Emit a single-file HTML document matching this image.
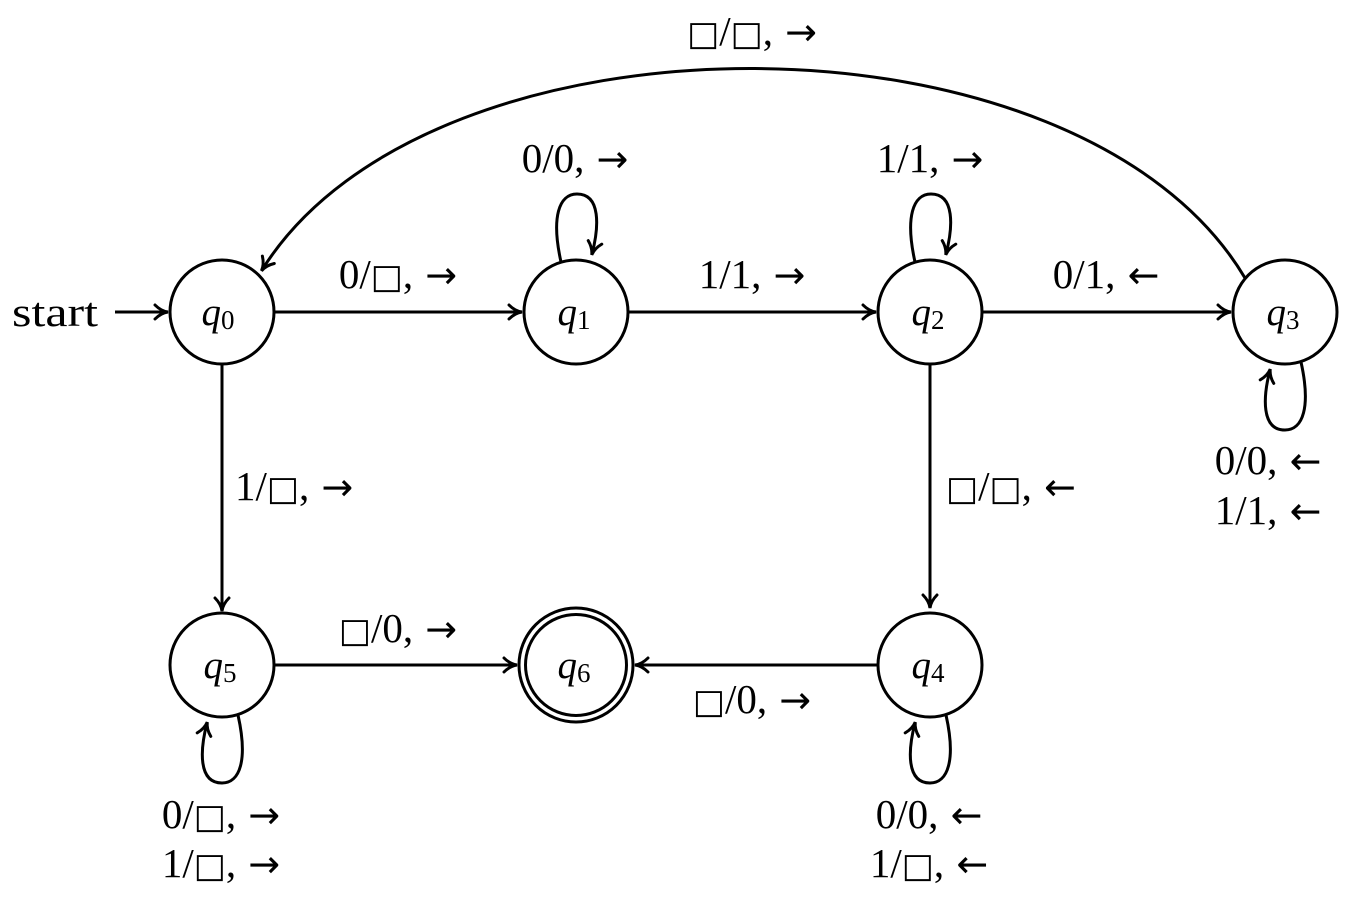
<!DOCTYPE html>
<html><head><meta charset="utf-8"><style>
html,body{margin:0;padding:0;background:#fff;}
svg{display:block;}
text{font-family:"Liberation Serif","DejaVu Serif",serif;font-size:41px;fill:#000;}
.q{font-style:italic;font-size:39px;}
.s{font-style:normal;font-size:27px;}
.b{font-family:"DejaVu Sans",sans-serif;font-size:34px;}
.r{font-family:"DejaVu Sans",sans-serif;font-size:38px;}
</style></head><body>
<svg width="1360" height="902" viewBox="0 0 1360 902" xmlns="http://www.w3.org/2000/svg">
<defs>
<marker id="a" markerWidth="18" markerHeight="18" refX="14" refY="9" orient="auto" markerUnits="userSpaceOnUse">
<path d="M2,2 Q8,8 15,9 Q8,10 2,16" fill="none" stroke="#000" stroke-width="3" stroke-linecap="round"/>
</marker>
</defs>
<g fill="none" stroke="#000" stroke-width="3">
<circle cx="222" cy="312" r="52"/>
<circle cx="576" cy="312" r="52"/>
<circle cx="930" cy="312" r="52"/>
<circle cx="1285" cy="312" r="52"/>
<circle cx="222" cy="665" r="52"/>
<circle cx="576" cy="665" r="57"/>
<circle cx="576" cy="665" r="50.5"/>
<circle cx="930" cy="665" r="52"/>
</g>
<g fill="none" stroke="#000" stroke-width="3" marker-end="url(#a)">
<line x1="115" y1="312" x2="167" y2="312"/>
<line x1="274" y1="312" x2="521" y2="312"/>
<line x1="628" y1="312" x2="875" y2="312"/>
<line x1="982" y1="312" x2="1230" y2="312"/>
<line x1="222" y1="364" x2="222" y2="610"/>
<line x1="930" y1="364" x2="930" y2="607"/>
<line x1="274" y1="665" x2="516" y2="665"/>
<line x1="878" y1="665" x2="636" y2="665"/>
<path d="M1245,278 C1080,0 430,0 262,270"/>
<path d="M561,262 C551,217 559,194 577,194 C601,194 599,227 592,254"/>
<path d="M915,262 C905,217 913,194 931,194 C955,194 953,227 946,254"/>
<path d="M1301,362 C1311,407 1303,430 1285,430 C1261,430 1263,397 1270,370"/>
<path d="M238,715 C248,760 240,783 222,783 C198,783 200,750 207,723"/>
<path d="M946,715 C956,760 948,783 930,783 C906,783 908,750 915,723"/>
</g>
<g text-anchor="middle">
<text x="218" y="325" class="q">q<tspan class="s" dy="4">0</tspan></text>
<text x="574" y="325" class="q">q<tspan class="s" dy="4">1</tspan></text>
<text x="928" y="325" class="q">q<tspan class="s" dy="4">2</tspan></text>
<text x="1283" y="325" class="q">q<tspan class="s" dy="4">3</tspan></text>
<text x="220" y="678" class="q">q<tspan class="s" dy="4">5</tspan></text>
<text x="574" y="678" class="q">q<tspan class="s" dy="4">6</tspan></text>
<text x="928" y="678" class="q">q<tspan class="s" dy="4">4</tspan></text>
<text x="575" y="172">0/0,<tspan class="r"> →</tspan></text>
<text x="930" y="172">1/1,<tspan class="r"> →</tspan></text>
<text x="752" y="45"><tspan class="b">□</tspan>/<tspan class="b">□</tspan>,<tspan class="r"> →</tspan></text>
<text x="398" y="288">0/<tspan class="b">□</tspan>,<tspan class="r"> →</tspan></text>
<text x="752" y="288">1/1,<tspan class="r"> →</tspan></text>
<text x="1106" y="288">0/1,<tspan class="r"> ←</tspan></text>
<text x="398" y="642"><tspan class="b">□</tspan>/0,<tspan class="r"> →</tspan></text>
<text x="752" y="713"><tspan class="b">□</tspan>/0,<tspan class="r"> →</tspan></text>
<text x="1268" y="474">0/0,<tspan class="r"> ←</tspan></text>
<text x="1268" y="524">1/1,<tspan class="r"> ←</tspan></text>
<text x="221" y="828">0/<tspan class="b">□</tspan>,<tspan class="r"> →</tspan></text>
<text x="221" y="877">1/<tspan class="b">□</tspan>,<tspan class="r"> →</tspan></text>
<text x="929" y="828">0/0,<tspan class="r"> ←</tspan></text>
<text x="929" y="877">1/<tspan class="b">□</tspan>,<tspan class="r"> ←</tspan></text>
</g>
<text x="12" y="326" textLength="86" lengthAdjust="spacingAndGlyphs">start</text>
<text x="235" y="500">1/<tspan class="b">□</tspan>,<tspan class="r"> →</tspan></text>
<text x="946" y="500"><tspan class="b">□</tspan>/<tspan class="b">□</tspan>,<tspan class="r"> ←</tspan></text>
</svg>
</body></html>
